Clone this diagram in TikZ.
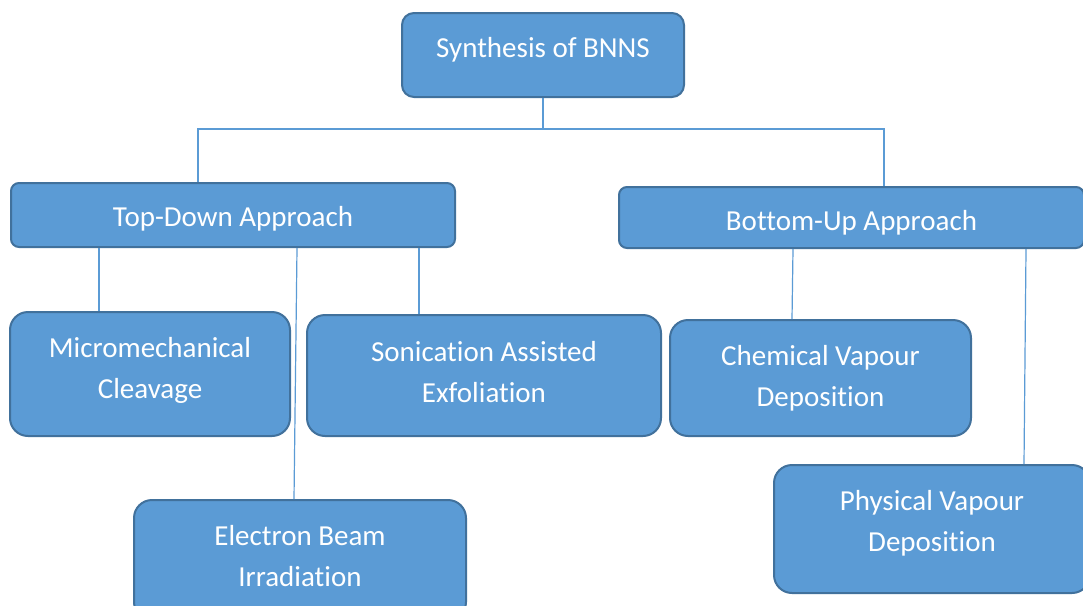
\documentclass[tikz,border=0pt]{standalone}
\usepackage{fontspec}
\setmainfont{Carlito}[Ligatures=NoCommon]
\usetikzlibrary{positioning,calc}
\definecolor{BOX-FILL}{RGB}{91, 155, 213}
\definecolor{BOX-EDGE}{RGB}{65, 113, 156}
\definecolor{LINK-BLUE}{RGB}{91, 155, 213}

\begin{document}
\begin{tikzpicture}[x=1pt, y=-1pt,
  box/.style={rectangle, fill=BOX-FILL, draw=BOX-EDGE, line width=2pt,
    text=white, align=center, inner sep=0pt,
    font=\fontsize{29}{41}\selectfont},
  link/.style={LINK-BLUE, line width=1.2pt}]
  \clip (0,0) rectangle (1083,605);
  \fill[white] (0,0) rectangle (1083,605);

  % Root
  \node[box, rounded corners=12pt, minimum width=282, minimum height=84,
    text depth=16pt] (root) at (543,55) {Synthesis of BNNS};

  % The two approaches
  \node[box, rounded corners=8pt, minimum width=444, minimum height=64,
    text height=28pt] (topdown) at (233,215) {Top-Down Approach};
  \node[box, rounded corners=8pt, minimum width=465, minimum height=61,
    text height=30pt] (bottomup) at (851.5,217.5) {Bottom-Up Approach};

  % Top-down methods
  \node[box, rounded corners=18pt, minimum width=280, minimum height=124,
    text depth=12pt] (micro) at (150,374) {Micromechanical\\Cleavage};
  \node[box, rounded corners=18pt, minimum width=354, minimum height=121,
    text depth=8pt] (sonic) at (484,375.5) {Sonication Assisted\\Exfoliation};
  \node[box, rounded corners=18pt, minimum width=332, minimum height=120,
    text depth=9pt] (ebeam) at (300,560) {Electron Beam\\Irradiation};

  % Bottom-up methods
  \node[box, rounded corners=18pt, minimum width=301, minimum height=116]
    (cvd) at (820.5,378) {Chemical Vapour\\Deposition};
  \node[box, rounded corners=18pt, minimum width=316, minimum height=128,
    text depth=16pt] (pvd) at (932,529) {Physical Vapour\\Deposition};

  % Root to approaches
  \draw[link] (root.south) -- ++(0,31) -| ([xshift=188]topdown.north west);
  \draw[link] (root.south) -- ++(0,31) -| ([xshift=266]bottomup.north west);

  % Approaches to methods
  \draw[link] ([xshift=89]topdown.south west) -- ([xshift=90]micro.north west);
  \draw[link] ([xshift=287]topdown.south west) -- ([xshift=161]ebeam.north west);
  \draw[link] ([xshift=409]topdown.south west) -- ([xshift=113]sonic.north west);
  \draw[link] ([xshift=175]bottomup.south west) -- ([xshift=123]cvd.north west);
  \draw[link] ([xshift=408]bottomup.south west) -- ([xshift=251]pvd.north west);
\end{tikzpicture}
\end{document}
